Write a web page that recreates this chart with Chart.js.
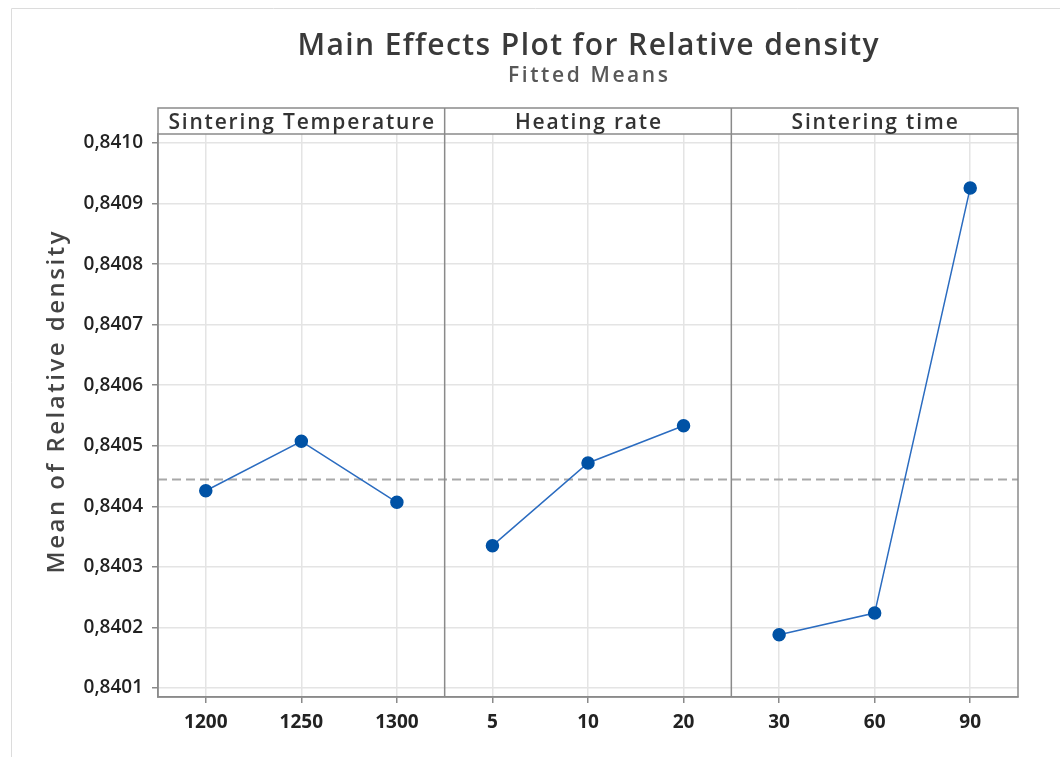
<!DOCTYPE html>
<html>
<head>
<meta charset="utf-8">
<title>Main Effects Plot for Relative density</title>
<script src="https://cdn.jsdelivr.net/npm/chart.js@4.4.1/dist/chart.umd.min.js"></script>
<style>
  html, body { margin: 0; padding: 0; background: #fff; }
  #wrap { width: 1060px; height: 757px; }
</style>
</head>
<body>
<div id="wrap"><canvas id="mainEffects" width="1060" height="757"></canvas></div>
<script>
// factor levels and fitted means
const tempLevels = ['1200', '1250', '1300'];
const tempMeans = [0.8404257, 0.8405073, 0.8404066];

const rateLevels = ['5', '10', '20'];
const rateMeans = [0.840335, 0.8404715, 0.840533];

const timeLevels = ['30', '60', '90'];
const timeMeans = [0.8401878, 0.8402236, 0.8409259];

const panelTitles = ['Sintering Temperature', 'Heating rate', 'Sintering time'];
const yTicks = [0.8401, 0.8402, 0.8403, 0.8404, 0.8405, 0.8406, 0.8407, 0.8408, 0.8409, 0.8410];
const grandMean = 0.840445;

const allLevels = tempLevels.concat(rateLevels, timeLevels);

function points(levels, means) {
    return levels.map((l, i) => ({ x: l, y: means[i] }));
}

const lineColor = '#2b6cc0';
const dotColor = '#0052a5';
const font = '"Open Sans", sans-serif';

function series(levels, means) {
    return {
        data: points(levels, means),
        borderColor: lineColor,
        borderWidth: 1.5,
        backgroundColor: dotColor,
        pointBackgroundColor: dotColor,
        pointBorderColor: dotColor,
        pointRadius: 6,
        pointHoverRadius: 6,
        tension: 0
    };
}

function spacedText(ctx, text, x, y, spacing) {
    ctx.letterSpacing = spacing + 'px';
    // trailing spacing shifts centred text, compensate
    ctx.fillText(text, x + spacing / 2, y);
    ctx.letterSpacing = '0px';
}

// outer border, titles, panel strip, dividers, reference line
const panelDecor = {
    id: 'panelDecor',
    beforeDraw(chart) {
        const ctx = chart.ctx;
        const area = chart.chartArea;
        const cx = (area.left + area.right) / 2;
        ctx.save();
        ctx.strokeStyle = '#dcdcdc';
        ctx.lineWidth = 1;
        ctx.beginPath();
        ctx.moveTo(11.5, chart.height);
        ctx.lineTo(11.5, 8.5);
        ctx.lineTo(chart.width, 8.5);
        ctx.stroke();

        ctx.textAlign = 'center';
        ctx.textBaseline = 'alphabetic';
        ctx.fillStyle = '#3a3a3a';
        ctx.font = '600 30px ' + font;
        spacedText(ctx, 'Main Effects Plot for Relative density', cx, 55, 1.4);
        ctx.fillStyle = '#585858';
        ctx.font = '600 21px ' + font;
        spacedText(ctx, 'Fitted Means', cx, 82, 2.6);

        // axis title
        ctx.translate(64, (area.top - 26 + area.bottom) / 2);
        ctx.rotate(-Math.PI / 2);
        ctx.fillStyle = '#444';
        ctx.font = '600 24px ' + font;
        spacedText(ctx, 'Mean of Relative density', 0, 0, 2.5);
        ctx.restore();
    },
    beforeDatasetsDraw(chart) {
        const ctx = chart.ctx;
        const area = chart.chartArea;
        const x = chart.scales.x;
        const y = chart.scales.y;
        const stripTop = area.top - 26;

        ctx.save();
        // grand mean
        const ym = Math.round(y.getPixelForValue(grandMean)) + 0.5;
        ctx.strokeStyle = '#a8a8a8';
        ctx.lineWidth = 2;
        ctx.setLineDash([9, 5]);
        ctx.beginPath();
        ctx.moveTo(area.left, ym);
        ctx.lineTo(area.right, ym);
        ctx.stroke();
        ctx.setLineDash([]);

        // frame and strip
        ctx.strokeStyle = '#8a8a8a';
        ctx.lineWidth = 1.5;
        ctx.strokeRect(area.left, stripTop, area.right - area.left, area.bottom - stripTop);
        ctx.beginPath();
        ctx.moveTo(area.left, area.top);
        ctx.lineTo(area.right, area.top);
        const bounds = [area.left];
        [2, 5].forEach(i => {
            const xp = (x.getPixelForValue(i) + x.getPixelForValue(i + 1)) / 2;
            bounds.push(xp);
            ctx.moveTo(xp, stripTop);
            ctx.lineTo(xp, area.bottom);
        });
        bounds.push(area.right);
        ctx.stroke();

        ctx.fillStyle = '#333';
        ctx.font = '600 21px ' + font;
        ctx.textAlign = 'center';
        ctx.textBaseline = 'alphabetic';
        panelTitles.forEach((t, i) => {
            spacedText(ctx, t, (bounds[i] + bounds[i + 1]) / 2, stripTop + 21, 1.8);
        });
        ctx.restore();
    }
};

new Chart(document.getElementById('mainEffects'), {
    type: 'line',
    data: {
        labels: allLevels,
        datasets: [
            series(tempLevels, tempMeans),
            series(rateLevels, rateMeans),
            series(timeLevels, timeMeans)
        ]
    },
    options: {
        responsive: false,
        animation: false,
        layout: { padding: { left: 0, right: 42, top: 134, bottom: 0 } },
        plugins: {
            legend: { display: false },
            tooltip: { enabled: false }
        },
        scales: {
            x: {
                type: 'category',
                offset: true,
                grid: {
                    offset: false,
                    color: '#e4e4e4',
                    lineWidth: 1.5,
                    tickColor: '#8a8a8a',
                    tickLength: 6
                },
                border: { color: '#8a8a8a', width: 1.5 },
                ticks: {
                    color: '#222',
                    padding: 8,
                    font: { family: '"Liberation Sans Narrow", "Open Sans", sans-serif', size: 19, weight: 'bold' }
                },
                afterFit(scale) { scale.height = 60; }
            },
            y: {
                min: 0.840085,
                max: 0.841015,
                grid: {
                    color: '#e4e4e4',
                    lineWidth: 1.5,
                    tickColor: '#8a8a8a',
                    tickLength: 6
                },
                border: { color: '#8a8a8a', width: 1.5 },
                afterBuildTicks(scale) {
                    scale.ticks = yTicks.map(v => ({ value: v }));
                },
                ticks: {
                    color: '#222',
                    padding: 9,
                    font: { family: font, size: 19, weight: '600' },
                    callback: v => Number(v).toFixed(4).replace('.', ',')
                },
                afterFit(scale) { scale.width = 158; }
            }
        }
    },
    plugins: [panelDecor]
});
</script>
</body>
</html>
